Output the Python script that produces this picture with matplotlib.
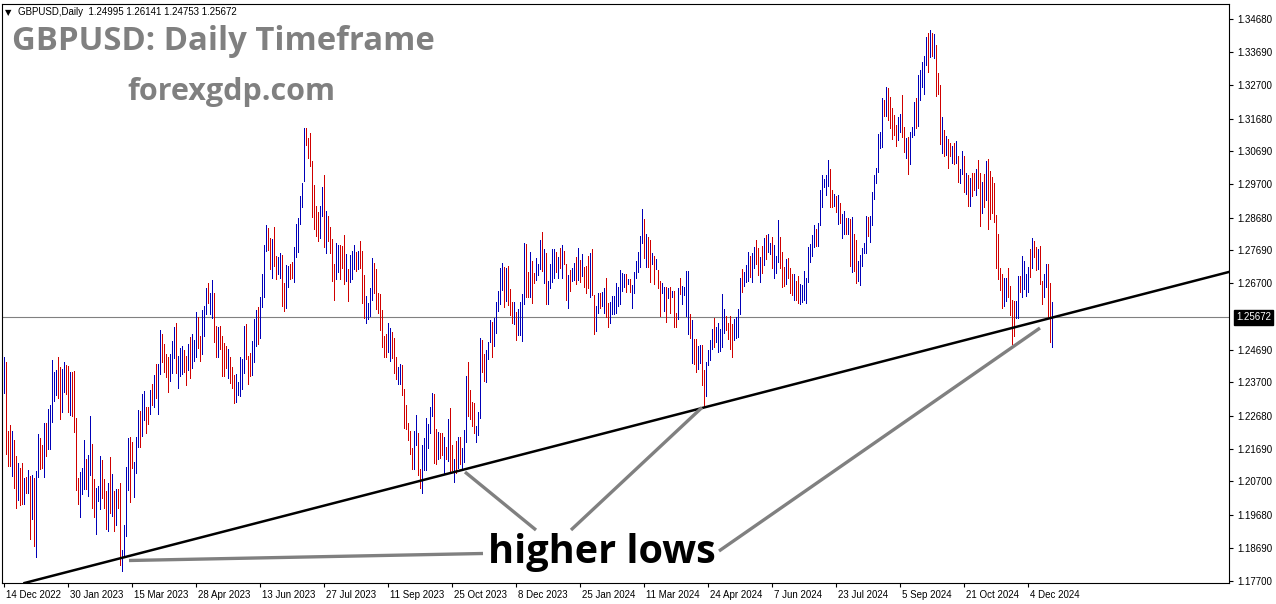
import numpy as np
import matplotlib
matplotlib.use("Agg")
import matplotlib.pyplot as plt
import matplotlib.transforms as mtransforms

# header and last quote
symbol_header = "GBPUSD,Daily  1.24995 1.26141 1.24753 1.25672"
last_price = 1.25672

# daily bars, 14 Dec 2022 .. 20 Dec 2024 (high / low)
highs = [
    1.2448, 1.2430, 1.2224, 1.2242, 1.2224, 1.2194, 1.2148, 1.2127, 1.2112, 1.2127,
    1.2079, 1.2082, 1.2106, 1.2085, 1.2088, 1.2079, 1.2100, 1.2212, 1.2200, 1.2179,
    1.2248, 1.2248, 1.2290, 1.2300, 1.2436, 1.2400, 1.2406, 1.2448, 1.2415, 1.2409,
    1.2430, 1.2421, 1.2418, 1.2400, 1.2400, 1.2403, 1.2263, 1.2079, 1.2097, 1.2112,
    1.2194, 1.2139, 1.2151, 1.2269, 1.2182, 1.2076, 1.2051, 1.2057, 1.2148, 1.2136,
    1.2076, 1.2042, 1.2066, 1.2145, 1.2091, 1.2042, 1.2048, 1.2048, 1.2066, 1.1861,
    1.1939, 1.2115, 1.2200, 1.2203, 1.2190, 1.2130, 1.2203, 1.2287, 1.2284, 1.2336,
    1.2345, 1.2294, 1.2294, 1.2348, 1.2366, 1.2391, 1.2426, 1.2426, 1.2527, 1.2515,
    1.2487, 1.2457, 1.2445, 1.2457, 1.2496, 1.2536, 1.2548, 1.2451, 1.2475, 1.2480,
    1.2469, 1.2451, 1.2487, 1.2508, 1.2517, 1.2499, 1.2584, 1.2569, 1.2511, 1.2590,
    1.2602, 1.2654, 1.2669, 1.2639, 1.2681, 1.2639, 1.2541, 1.2536, 1.2541, 1.2511,
    1.2490, 1.2481, 1.2472, 1.2445, 1.2415, 1.2393, 1.2396, 1.2372, 1.2448, 1.2439,
    1.2539, 1.2545, 1.2451, 1.2460, 1.2496, 1.2563, 1.2590, 1.2599, 1.2627, 1.2699,
    1.2787, 1.2847, 1.2838, 1.2808, 1.2805, 1.2841, 1.2751, 1.2748, 1.2760, 1.2754,
    1.2669, 1.2726, 1.2723, 1.2729, 1.2735, 1.2778, 1.2850, 1.2868, 1.2935, 1.2972,
    1.3141, 1.3141, 1.3108, 1.3123, 1.3041, 1.2966, 1.2905, 1.2884, 1.2905, 1.2960,
    1.2996, 1.2887, 1.2872, 1.2841, 1.2805, 1.2729, 1.2793, 1.2787, 1.2784, 1.2781,
    1.2817, 1.2757, 1.2714, 1.2754, 1.2766, 1.2787, 1.2763, 1.2766, 1.2799, 1.2766,
    1.2696, 1.2630, 1.2611, 1.2654, 1.2745, 1.2732, 1.2714, 1.2639, 1.2636, 1.2590,
    1.2511, 1.2517, 1.2548, 1.2533, 1.2521, 1.2505, 1.2445, 1.2415, 1.2424, 1.2421,
    1.2351, 1.2300, 1.2248, 1.2224, 1.2170, 1.2224, 1.2272, 1.2218, 1.2109, 1.2179,
    1.2200, 1.2263, 1.2245, 1.2294, 1.2339, 1.2336, 1.2230, 1.2221, 1.2218, 1.2215,
    1.2203, 1.2173, 1.2260, 1.2291, 1.2179, 1.2139, 1.2191, 1.2203, 1.2203, 1.2170,
    1.2227, 1.2390, 1.2430, 1.2348, 1.2309, 1.2306, 1.2239, 1.2279, 1.2505, 1.2499,
    1.2457, 1.2469, 1.2493, 1.2560, 1.2551, 1.2566, 1.2614, 1.2645, 1.2717, 1.2732,
    1.2720, 1.2717, 1.2723, 1.2651, 1.2614, 1.2614, 1.2584, 1.2593, 1.2614, 1.2636,
    1.2793, 1.2790, 1.2705, 1.2763, 1.2736, 1.2702, 1.2745, 1.2729, 1.2802, 1.2826,
    1.2772, 1.2760, 1.2678, 1.2729, 1.2772, 1.2772, 1.2763, 1.2748, 1.2775, 1.2787,
    1.2766, 1.2729, 1.2696, 1.2711, 1.2717, 1.2732, 1.2748, 1.2775, 1.2739, 1.2757,
    1.2720, 1.2723, 1.2751, 1.2760, 1.2772, 1.2633, 1.2602, 1.2639, 1.2639, 1.2642,
    1.2654, 1.2687, 1.2611, 1.2614, 1.2630, 1.2630, 1.2669, 1.2657, 1.2711, 1.2702,
    1.2699, 1.2699, 1.2684, 1.2684, 1.2663, 1.2705, 1.2736, 1.2763, 1.2814, 1.2893,
    1.2863, 1.2820, 1.2811, 1.2802, 1.2760, 1.2751, 1.2742, 1.2711, 1.2678, 1.2669,
    1.2657, 1.2657, 1.2654, 1.2657, 1.2645, 1.2645, 1.2581, 1.2654, 1.2687, 1.2660,
    1.2657, 1.2708, 1.2708, 1.2578, 1.2560, 1.2502, 1.2502, 1.2481, 1.2484, 1.2484,
    1.2406, 1.2430, 1.2469, 1.2499, 1.2530, 1.2566, 1.2536, 1.2548, 1.2530, 1.2636,
    1.2593, 1.2572, 1.2548, 1.2572, 1.2545, 1.2563, 1.2569, 1.2593, 1.2687, 1.2714,
    1.2705, 1.2726, 1.2763, 1.2751, 1.2760, 1.2778, 1.2802, 1.2775, 1.2748, 1.2781,
    1.2808, 1.2817, 1.2820, 1.2793, 1.2811, 1.2784, 1.2751, 1.2860, 1.2811, 1.2763,
    1.2720, 1.2742, 1.2745, 1.2717, 1.2699, 1.2699, 1.2678, 1.2693, 1.2666, 1.2663,
    1.2708, 1.2687, 1.2778, 1.2790, 1.2817, 1.2845, 1.2833, 1.2851, 1.2951, 1.2996,
    1.2984, 1.2996, 1.3044, 1.3014, 1.2951, 1.2941, 1.2935, 1.2938, 1.2914, 1.2878,
    1.2887, 1.2866, 1.2866, 1.2863, 1.2869, 1.2820, 1.2802, 1.2736, 1.2754, 1.2775,
    1.2793, 1.2872, 1.2869, 1.2872, 1.2945, 1.2996, 1.3020, 1.3120, 1.3129, 1.3229,
    1.3223, 1.3265, 1.3262, 1.3232, 1.3199, 1.3180, 1.3150, 1.3174, 1.3183, 1.3238,
    1.3144, 1.3108, 1.3111, 1.3126, 1.3144, 1.3217, 1.3229, 1.3299, 1.3314, 1.3338,
    1.3359, 1.3414, 1.3426, 1.3435, 1.3426, 1.3423, 1.3390, 1.3305, 1.3271, 1.3174,
    1.3135, 1.3114, 1.3105, 1.3093, 1.3084, 1.3093, 1.3099, 1.3056, 1.3014, 1.3071,
    1.3056, 1.3002, 1.2996, 1.2987, 1.3002, 1.3002, 1.3014, 1.3044, 1.3002, 1.2975,
    1.2999, 1.3041, 1.3047, 1.3008, 1.2990, 1.2972, 1.2875, 1.2820, 1.2717, 1.2699,
    1.2687, 1.2687, 1.2717, 1.2660, 1.2620, 1.2617, 1.2617, 1.2693, 1.2693, 1.2751,
    1.2736, 1.2699, 1.2720, 1.2772, 1.2808, 1.2799, 1.2778, 1.2772, 1.2781, 1.2678,
    1.2699, 1.2729, 1.2729, 1.2669, 1.26141,
]
lows = [
    1.2339, 1.2154, 1.2118, 1.2118, 1.2085, 1.2051, 1.1991, 1.2015, 1.2000, 1.2003,
    1.2003, 1.2036, 1.2036, 1.1897, 1.1955, 1.1873, 1.1840, 1.2082, 1.2109, 1.2112,
    1.2082, 1.2148, 1.2169, 1.2169, 1.2251, 1.2312, 1.2333, 1.2321, 1.2260, 1.2281,
    1.2342, 1.2336, 1.2281, 1.2272, 1.2269, 1.2221, 1.2045, 1.2003, 1.1961, 1.2033,
    1.2048, 1.2048, 1.2027, 1.2088, 1.1988, 1.1961, 1.1912, 1.2012, 1.1985, 1.2021,
    1.1991, 1.1927, 1.1921, 1.1973, 1.1964, 1.1921, 1.1939, 1.1988, 1.1818, 1.1800,
    1.1840, 1.1906, 1.2045, 1.2009, 1.2110, 1.2024, 1.2094, 1.2175, 1.2175, 1.2206,
    1.2257, 1.2215, 1.2245, 1.2275, 1.2300, 1.2294, 1.2323, 1.2275, 1.2395, 1.2430,
    1.2400, 1.2387, 1.2342, 1.2375, 1.2397, 1.2442, 1.2397, 1.2354, 1.2390, 1.2395,
    1.2400, 1.2363, 1.2406, 1.2384, 1.2412, 1.2433, 1.2445, 1.2475, 1.2433, 1.2457,
    1.2511, 1.2578, 1.2611, 1.2578, 1.2566, 1.2493, 1.2445, 1.2445, 1.2472, 1.2390,
    1.2390, 1.2412, 1.2384, 1.2369, 1.2354, 1.2306, 1.2309, 1.2330, 1.2327, 1.2351,
    1.2397, 1.2439, 1.2366, 1.2390, 1.2393, 1.2430, 1.2481, 1.2487, 1.2505, 1.2599,
    1.2627, 1.2766, 1.2769, 1.2714, 1.2687, 1.2723, 1.2684, 1.2699, 1.2687, 1.2602,
    1.2587, 1.2596, 1.2657, 1.2684, 1.2687, 1.2672, 1.2748, 1.2763, 1.2850, 1.2902,
    1.2978, 1.3087, 1.3050, 1.3026, 1.2869, 1.2835, 1.2814, 1.2799, 1.2808, 1.2872,
    1.2778, 1.2760, 1.2799, 1.2760, 1.2678, 1.2620, 1.2684, 1.2705, 1.2684, 1.2717,
    1.2666, 1.2678, 1.2615, 1.2672, 1.2684, 1.2714, 1.2708, 1.2714, 1.2717, 1.2611,
    1.2566, 1.2548, 1.2563, 1.2572, 1.2620, 1.2639, 1.2593, 1.2581, 1.2527, 1.2478,
    1.2445, 1.2448, 1.2463, 1.2433, 1.2442, 1.2397, 1.2381, 1.2366, 1.2366, 1.2330,
    1.2233, 1.2230, 1.2194, 1.2154, 1.2109, 1.2109, 1.2179, 1.2088, 1.2051, 1.2036,
    1.2106, 1.2103, 1.2172, 1.2215, 1.2269, 1.2127, 1.2124, 1.2139, 1.2142, 1.2151,
    1.2094, 1.2139, 1.2133, 1.2097, 1.2103, 1.2067, 1.2094, 1.2112, 1.2124, 1.2109,
    1.2130, 1.2188, 1.2269, 1.2260, 1.2239, 1.2215, 1.2188, 1.2209, 1.2263, 1.2402,
    1.2375, 1.2372, 1.2439, 1.2493, 1.2448, 1.2481, 1.2520, 1.2587, 1.2608, 1.2648,
    1.2599, 1.2617, 1.2605, 1.2575, 1.2548, 1.2545, 1.2499, 1.2514, 1.2514, 1.2496,
    1.2608, 1.2627, 1.2627, 1.2627, 1.2611, 1.2669, 1.2681, 1.2696, 1.2714, 1.2708,
    1.2669, 1.2608, 1.2608, 1.2654, 1.2672, 1.2687, 1.2705, 1.2687, 1.2717, 1.2687,
    1.2729, 1.2620, 1.2596, 1.2645, 1.2678, 1.2681, 1.2666, 1.2681, 1.2675, 1.2693,
    1.2657, 1.2639, 1.2654, 1.2627, 1.2633, 1.2517, 1.2524, 1.2581, 1.2596, 1.2602,
    1.2581, 1.2569, 1.2536, 1.2548, 1.2578, 1.2578, 1.2581, 1.2602, 1.2608, 1.2645,
    1.2657, 1.2642, 1.2666, 1.2642, 1.2596, 1.2639, 1.2687, 1.2705, 1.2720, 1.2793,
    1.2745, 1.2720, 1.2720, 1.2672, 1.2729, 1.2666, 1.2714, 1.2654, 1.2572, 1.2639,
    1.2587, 1.2551, 1.2624, 1.2581, 1.2627, 1.2536, 1.2536, 1.2563, 1.2636, 1.2608,
    1.2633, 1.2572, 1.2517, 1.2505, 1.2427, 1.2424, 1.2402, 1.2409, 1.2427, 1.2363,
    1.2294, 1.2327, 1.2421, 1.2436, 1.2472, 1.2478, 1.2493, 1.2463, 1.2466, 1.2478,
    1.2520, 1.2527, 1.2502, 1.2472, 1.2445, 1.2499, 1.2505, 1.2508, 1.2578, 1.2642,
    1.2660, 1.2672, 1.2678, 1.2690, 1.2672, 1.2717, 1.2729, 1.2696, 1.2672, 1.2702,
    1.2726, 1.2742, 1.2763, 1.2757, 1.2717, 1.2687, 1.2702, 1.2733, 1.2717, 1.2657,
    1.2660, 1.2666, 1.2687, 1.2639, 1.2633, 1.2620, 1.2620, 1.2611, 1.2608, 1.2614,
    1.2620, 1.2611, 1.2672, 1.2733, 1.2751, 1.2778, 1.2781, 1.2781, 1.2845, 1.2899,
    1.2960, 1.2938, 1.2963, 1.2899, 1.2899, 1.2905, 1.2884, 1.2848, 1.2851, 1.2808,
    1.2820, 1.2820, 1.2820, 1.2723, 1.2705, 1.2708, 1.2669, 1.2678, 1.2663, 1.2723,
    1.2760, 1.2760, 1.2814, 1.2796, 1.2845, 1.2926, 1.2972, 1.3005, 1.3078, 1.3081,
    1.3177, 1.3177, 1.3165, 1.3141, 1.3105, 1.3117, 1.3084, 1.3102, 1.3129, 1.3111,
    1.3068, 1.3050, 1.2999, 1.3032, 1.3111, 1.3117, 1.3141, 1.3147, 1.3223, 1.3265,
    1.3244, 1.3329, 1.3308, 1.3356, 1.3359, 1.3350, 1.3235, 1.3241, 1.3090, 1.3065,
    1.3056, 1.3059, 1.3020, 1.3056, 1.3035, 1.3032, 1.3035, 1.2975, 1.2972, 1.2999,
    1.2947, 1.2941, 1.2905, 1.2905, 1.2935, 1.2951, 1.2938, 1.2957, 1.2842, 1.2881,
    1.2902, 1.2923, 1.2835, 1.2863, 1.2881, 1.2854, 1.2717, 1.2684, 1.2648, 1.2596,
    1.2602, 1.2617, 1.2627, 1.2575, 1.2487, 1.2511, 1.2566, 1.2566, 1.2642, 1.2627,
    1.2651, 1.2630, 1.2642, 1.2690, 1.2717, 1.2748, 1.2711, 1.2714, 1.2666, 1.2608,
    1.2627, 1.2657, 1.2566, 1.2493, 1.24753,
]
# u = bullish bar (blue), d = bearish bar (red)
bar_dirs = (
    "uddduddudd" "udududuudd" "uduuuuuddu" "uddudddduu" "uduudduuud"
    "ddudududdu" "uuudduuudu" "uddududuud" "ddduuuduuu" "dduduuuddu"
    "uuduuddudd" "dduddduuuu" "uddduuuduu" "uuddudduud" "duudduuuuu"
    "uddddddduu" "dudddduudd" "duduuududd" "duuuuddddd" "dduuddduud"
    "ddddduuddu" "uuuuuddudd" "ududdududu" "uudddduuud" "duuuduuuuu"
    "duddduduuu" "uddudduuud" "uduuuududu" "dduduududu" "dddudduudu"
    "udduuuuuuu" "ududuuuuuu" "duddududdu" "udududdudu" "uuududduud"
    "duuuuduuuu" "udddduuuud" "uuuduuddud" "uduuduuudd" "dudddudduu"
    "uuuuuuduuu" "uuuddududu" "udududduuu" "uuduuuuuuu" "duddddduud"
    "duduuuduuu" "uudududddu" "duddududuu" "dududduddu" "dudddddddd"
    "uudddduudu" "uuududdudd" "uuddu"
)

date_labels = ["14 Dec 2022", "30 Jan 2023", "15 Mar 2023", "28 Apr 2023",
               "13 Jun 2023", "27 Jul 2023", "11 Sep 2023", "25 Oct 2023",
               "8 Dec 2023", "25 Jan 2024", "11 Mar 2024", "24 Apr 2024",
               "7 Jun 2024", "23 Jul 2024", "5 Sep 2024", "21 Oct 2024",
               "4 Dec 2024"]
bars_per_label = 32

price_ticks = [1.3468, 1.3369, 1.3270, 1.3168, 1.3069, 1.2970, 1.2868, 1.2769,
               1.2670, 1.2469, 1.2370, 1.2268, 1.2169, 1.2070, 1.1968, 1.1869,
               1.1770]

# rising support line (bar index, price)
trend_a = (78.25, 1.18684)
trend_b = (533.25, 1.25797)
# grey pointer lines from the label to the touches
pointers = [
    ((62.75, 1.18306), (239.75, 1.18518)),
    ((230.75, 1.20984), (266.25, 1.19229)),
    ((349.25, 1.22937), (283.75, 1.19229)),
    ((518.25, 1.25343), (357.75, 1.18593)),
]

W, H = 1276, 604
fig = plt.figure(figsize=(W / 100, H / 100), dpi=100)
ax = fig.add_axes([2 / W, 21 / H, 1227 / W, 579 / H])

n = min(len(highs), len(lows), len(bar_dirs))
x = np.arange(n)
cols = ["#0000b8" if c == "u" else "#d00000" for c in bar_dirs[:n]]
ax.vlines(x, lows[:n], highs[:n], colors=cols, linewidth=0.72, antialiased=False)

ax.axhline(last_price, color="#808080", lw=0.8, zorder=1)
ax.axline(trend_a, trend_b, color="black", lw=1.8, zorder=3)
for p, q in pointers:
    ax.plot([p[0], q[0]], [p[1], q[1]], color="#808080", lw=2.4,
            solid_capstyle="butt", zorder=4)

ax.set_xlim(-0.75, 612.75)
ax.set_ylim(1.17625, 1.35149)

for s in ax.spines.values():
    s.set_linewidth(0.8)

tick_font = dict(family=["Liberation Sans", "DejaVu Sans"], size=7)
ax.yaxis.tick_right()
ax.set_yticks(price_ticks)
ax.set_yticklabels([f"{v:.5f}" for v in price_ticks], **tick_font)
ax.tick_params(axis="y", length=3, width=0.8, pad=3)

ax.set_xticks(np.arange(len(date_labels)) * bars_per_label)
ax.set_xticklabels(date_labels, **tick_font)
ax.tick_params(axis="x", length=3, width=0.8, pad=2)
shift = mtransforms.ScaledTranslation(3 / 100, 0, fig.dpi_scale_trans)
for lbl in ax.get_xticklabels():
    lbl.set_horizontalalignment("left")
    lbl.set_transform(lbl.get_transform() + shift)

# current price tag on the scale
ax.annotate(f"{last_price:.5f}", xy=(1, last_price),
            xycoords=("axes fraction", "data"), xytext=(7, 0),
            textcoords="offset pixels", ha="left", va="center",
            color="white", annotation_clip=False,
            bbox=dict(boxstyle="square,pad=0.25", fc="black", ec="black"),
            **tick_font)

# header and captions
fig.text(5 / W, 1 - 15 / H, "\u25bc", family="DejaVu Sans", size=6, va="baseline")
fig.text(18 / W, 1 - 15 / H, symbol_header, va="baseline", **tick_font)
fig.text(12 / W, 1 - 50 / H, "GBPUSD: Daily Timeframe", family="Open Sans",
         weight="bold", size=23.7, color="#808080", va="baseline")
fig.text(127 / W, 1 - 100 / H, "forexgdp.com", family="Open Sans",
         weight="bold", size=22, color="#808080", va="baseline")
fig.text(488 / W, 1 - 563 / H, "higher lows", family="Open Sans",
         weight="bold", size=28.5, color="black", va="baseline")

fig.savefig("out.png", dpi=100)
